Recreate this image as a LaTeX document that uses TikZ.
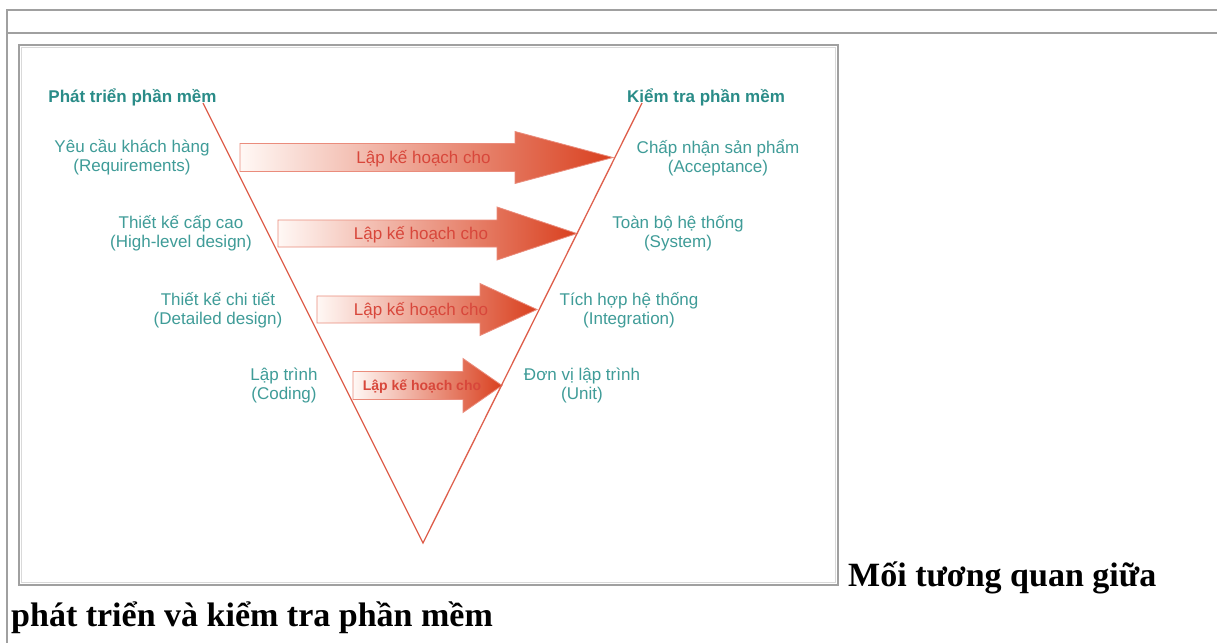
\documentclass[tikz,border=0pt]{standalone}
\usepackage{fontspec}
\setmainfont{Liberation Serif}
\newfontfamily\labfont{Liberation Sans}
\definecolor{frameG}{HTML}{A0A0A0}
\definecolor{vline}{HTML}{DE5F4C}
\definecolor{teal}{HTML}{3F9C98}
\definecolor{tealH}{HTML}{2A8C88}
\definecolor{planT}{HTML}{D8473B}
\definecolor{arrL}{HTML}{FFF8F5}
\definecolor{arrM}{HTML}{F2A68C}
\definecolor{arrR}{HTML}{D9401F}
\definecolor{arrE}{HTML}{EA8C7C}
\newcommand\planarrow[6]{%
  \shadedraw[left color=arrL, middle color=arrM, right color=arrR, draw=arrE, line width=0.8pt]
    (#1,#4-#5) -- (#2,#4-#5) -- (#2,#4-#6) -- (#3,#4) -- (#2,#4+#6) -- (#2,#4+#5) -- (#1,#4+#5) -- cycle;}
\begin{document}
\begin{tikzpicture}[x=1pt,y=-1pt,
  lab/.style={font=\labfont\fontsize{17}{19}\selectfont, text=teal, align=center, inner sep=0pt, anchor=base},
  hdr/.style={font=\labfont\bfseries\fontsize{17}{19}\selectfont, text=tealH, inner sep=0pt, anchor=base},
  plan/.style={font=\labfont\fontsize{17}{19}\selectfont, text=planT, inner sep=0pt, anchor=base},
  captxt/.style={font=\bfseries\fontsize{34}{39}\selectfont, inner sep=0pt, anchor=base west}]
\useasboundingbox (0,0) rectangle (1217,643);
\fill[white] (0,0) rectangle (1217,643);
% page frame
\draw[frameG, line width=2pt] (7,10) -- (1217,10);
\draw[frameG, line width=2pt] (7,33) -- (1217,33);
\draw[frameG, line width=2pt] (7,9) -- (7,643);
% image frame
\draw[frameG, line width=2.2pt] (19,45) rectangle (838,585);
\draw[black!15, line width=0.8pt] (21.5,47.5) rectangle (835.5,582.5);
% arrows
\planarrow{240}{515}{613}{157.5}{14}{26}
\planarrow{278}{497}{577}{233.5}{13.5}{26.5}
\planarrow{317}{480}{537}{309.5}{13.5}{26}
\planarrow{353}{463}{502}{385.5}{14}{27}
% V
\coordinate (vl) at (203,103);
\coordinate (vb) at (423,543);
\coordinate (vr) at (642,103);
\draw[vline, line width=1.3pt] (vl) -- (vb) -- (vr);
% plan labels
\node[plan] (p1) at (423.5,163) {Lập kế hoạch cho};
\node[plan] (p2) at (421,239) {Lập kế hoạch cho};
\node[plan] (p3) at (421,315) {Lập kế hoạch cho};
\node[plan, font=\labfont\bfseries\fontsize{14}{16}\selectfont] (p4) at (422,390) {Lập kế hoạch cho};
% headers
\node[hdr] (hdev) at (132.5,102) {Phát triển phần mềm};
\node[hdr] (htest) at (706,102) {Kiểm tra phần mềm};
% left labels (anchor = baseline of second line)
\node[lab] (req) at (132,171) {Yêu cầu khách hàng\\(Requirements)};
\node[lab] (hld) at (181,247) {Thiết kế cấp cao\\(High-level design)};
\node[lab] (dd) at (218,324) {Thiết kế chi tiết\\(Detailed design)};
\node[lab] (cod) at (284,399) {Lập trình\\(Coding)};
% right labels
\node[lab] (acc) at (718,172) {Chấp nhận sản phẩm\\(Acceptance)};
\node[lab] (sys) at (678,247) {Toàn bộ hệ thống\\(System)};
\node[lab] (integ) at (629,324) {Tích hợp hệ thống\\(Integration)};
\node[lab] (unit) at (582,399) {Đơn vị lập trình\\(Unit)};
% caption
\node[captxt] (cap1) at (848,586) {Mối tương quan giữa};
\node[captxt] (cap2) at (11,626) {phát triển và kiểm tra phần mềm};
\end{tikzpicture}
\end{document}
